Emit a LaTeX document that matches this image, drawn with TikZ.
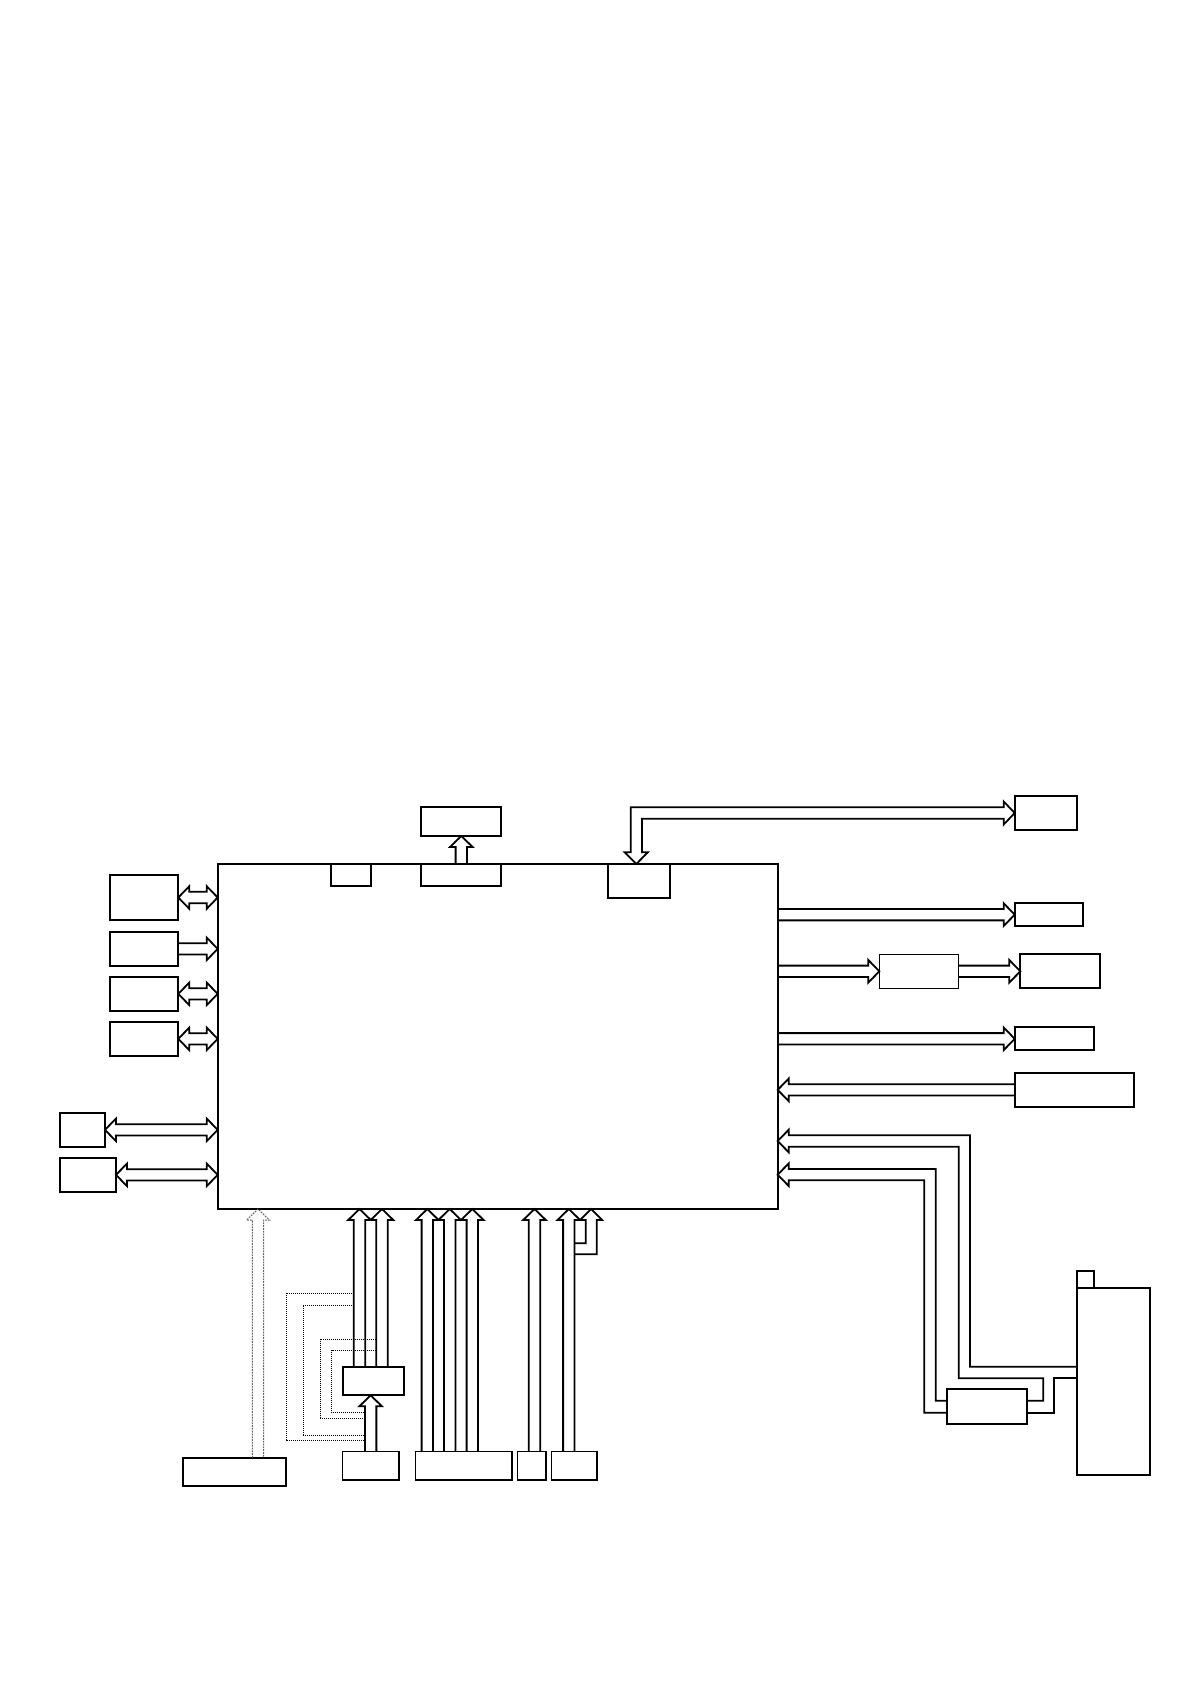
\documentclass[tikz,border=0pt]{standalone}
\usetikzlibrary{calc}

\tikzset{
  blk/.style={draw, rectangle, line width=2.3pt, inner sep=0pt, outer sep=0pt},
  blkthin/.style={blk, line width=1.3pt},
  fat/.style={draw, line width=1.8pt, line join=miter},
  dots/.style={densely dotted, line width=1pt},
}
\newcommand{\shaftw}{5.7pt}
\newcommand{\headw}{11.3pt}
\newcommand{\headlen}{11pt}

% hollow arrow, tip at #3
\newcommand{\fatarrow}[3][]{%
  \coordinate (fa-a) at #2;
  \coordinate (fa-b) at #3;
  \coordinate (fa-c) at ($(fa-b)!\headlen!(fa-a)$);
  \draw[fat,#1] ($(fa-a)!\shaftw!90:(fa-b)$) -- ($(fa-c)!\shaftw!-90:(fa-a)$)
    -- ($(fa-c)!\headw!-90:(fa-a)$) -- (fa-b) -- ($(fa-c)!\headw!90:(fa-a)$)
    -- ($(fa-c)!\shaftw!90:(fa-a)$) -- ($(fa-a)!\shaftw!-90:(fa-b)$);
}
% hollow arrow, tips at both ends
\newcommand{\fatboth}[3][]{%
  \coordinate (fa-a) at #2;
  \coordinate (fa-b) at #3;
  \coordinate (fa-c) at ($(fa-b)!\headlen!(fa-a)$);
  \coordinate (fa-d) at ($(fa-a)!\headlen!(fa-b)$);
  \draw[fat,#1] (fa-a) -- ($(fa-d)!\headw!90:(fa-b)$) -- ($(fa-d)!\shaftw!90:(fa-b)$)
    -- ($(fa-c)!\shaftw!-90:(fa-a)$) -- ($(fa-c)!\headw!-90:(fa-a)$) -- (fa-b)
    -- ($(fa-c)!\headw!90:(fa-a)$) -- ($(fa-c)!\shaftw!90:(fa-a)$)
    -- ($(fa-d)!\shaftw!-90:(fa-b)$) -- ($(fa-d)!\headw!-90:(fa-b)$) -- cycle;
}

\begin{document}
\begin{tikzpicture}[x=1pt, y=-1pt]
\useasboundingbox (0,0) rectangle (1191,1684);

\node (mcu) at (497.7,1036.5) [blk, minimum width=560pt, minimum height=345pt] {};

% left side
\node (l1) at (144.3,897.5) [blk, minimum width=68pt, minimum height=45.6pt] {};
\node (l2) at (144.3,948.85) [blk, minimum width=68pt, minimum height=34.3pt] {};
\node (l3) at (144.3,993.85) [blk, minimum width=68pt, minimum height=34.3pt] {};
\node (l4) at (144.3,1038.85) [blk, minimum width=68pt, minimum height=34.3pt] {};
\node (l5) at (82.65,1129.85) [blk, minimum width=44.7pt, minimum height=34.3pt] {};
\node (l6) at (88.15,1174.85) [blk, minimum width=55.7pt, minimum height=34.3pt] {};

% top
\node (t1) at (351,875.15) [blk, minimum width=40pt, minimum height=22.3pt] {};
\node (t2) at (461.3,875.15) [blk, minimum width=80pt, minimum height=22.3pt] {};
\node (t3) at (461.3,821.65) [blk, minimum width=80pt, minimum height=28.7pt] {};
\node (t4) at (638.85,880.85) [blk, minimum width=62.3pt, minimum height=33.7pt] {};

% right side
\node (r1) at (1045.9,813) [blk, minimum width=62.4pt, minimum height=34pt] {};
\node (r2) at (1049,914.65) [blk, minimum width=68.6pt, minimum height=22.7pt] {};
\node (r3) at (919,971.3) [blkthin, minimum width=79.4pt, minimum height=34pt] {};
\node (r4) at (1060.3,971.3) [blk, minimum width=80pt, minimum height=34pt] {};
\node (r5) at (1054.5,1038.8) [blk, minimum width=79.6pt, minimum height=23pt] {};
\node (r6) at (1074.5,1089.85) [blk, minimum width=119.6pt, minimum height=34.3pt] {};

% battery corner
\node (sw) at (986.7,1406.65) [blk, minimum width=80pt, minimum height=34.7pt] {};
\node (bat) at (1113.35,1381.35) [blk, minimum width=73.3pt, minimum height=187.3pt] {};
\node (nub) at (1085.35,1279.2) [blk, minimum width=17.3pt, minimum height=17pt] {};

% bottom
\node (d) at (234.65,1471.85) [blk, minimum width=102.7pt, minimum height=28.3pt] {};
\node (m) at (373.5,1381) [blk, minimum width=61.6pt, minimum height=28.6pt] {};
\node (n) at (370.65,1465.85) [blkthin, minimum width=56.7pt, minimum height=28.3pt] {};
\node (q) at (463.85,1465.85) [blkthin, minimum width=96.3pt, minimum height=28.3pt] {};
\node (u) at (531.65,1465.85) [blkthin, minimum width=28.7pt, minimum height=28.3pt] {};
\node (v) at (574.15,1465.85) [blkthin, minimum width=45.7pt, minimum height=28.3pt] {};

\coordinate (d1) at ([xshift=23.35pt]d.north);
\coordinate (m1) at ([xshift=-14pt]m.north);
\coordinate (m2) at ([xshift=8.5pt]m.north);
\coordinate (q1) at ([xshift=-36.55pt]q.north);
\coordinate (q2) at ([xshift=-14.15pt]q.north);
\coordinate (q3) at ([xshift=8.45pt]q.north);
\coordinate (u1) at ([xshift=2.85pt]u.north);
\coordinate (v1) at ([xshift=-5.35pt]v.north);

% left arrows
\fatboth{(l1.east)}{(l1.east -| mcu.west)}
\fatarrow{(l2.east)}{(l2.east -| mcu.west)}
\fatboth{(l3.east)}{(l3.east -| mcu.west)}
\fatboth{(l4.east)}{(l4.east -| mcu.west)}
\fatboth{(l5.east)}{(l5.east -| mcu.west)}
\fatboth{(l6.east)}{(l6.east -| mcu.west)}

% top arrows
\fatarrow{(t2.north)}{(t3.south)}
\draw[fat] (630.7,852.3) -- (630.7,807.3) -- (1003.7,807.3) -- (1003.7,801.5) -- (r1.west)
  -- (1003.7,824.5) -- (1003.7,818.7) -- (642,818.7) -- (642,852.3) -- (647.8,852.3)
  -- ([xshift=-2.55pt]t4.north) -- (624.8,852.3) -- cycle;

% right arrows
\fatarrow{(r2.west -| mcu.east)}{(r2.west)}
\fatarrow{(r3.west -| mcu.east)}{(r3.west)}
\fatarrow{(r3.east)}{(r4.west)}
\fatarrow{(r5.west -| mcu.east)}{(r5.west)}
\fatarrow{(r6.west)}{(r6.west -| mcu.east)}

% battery lines
\draw[fat] (bat.west |- 0,1366.7) -- (970,1366.7) -- (970,1135.3) -- (788.7,1135.3)
  -- (788.7,1129.7) -- (mcu.east |- 0,1141) -- (788.7,1152.3) -- (788.7,1146.7)
  -- (958.7,1146.7) -- (958.7,1378.3) -- (1043.3,1378.3) -- (1043.3,1400.7)
  -- (sw.east |- 0,1400.7);
\draw[fat] (sw.east |- 0,1412.7) -- (1054,1412.7) -- (1054,1378.3) -- (bat.west |- 0,1378.3);
\draw[fat] (sw.west |- 0,1400.7) -- (935.7,1400.7) -- (935.7,1169) -- (788.7,1169)
  -- (788.7,1163.4) -- (mcu.east |- 0,1174.7) -- (788.7,1186) -- (788.7,1180.3)
  -- (924.3,1180.3) -- (924.3,1412.7) -- (sw.west |- 0,1412.7);

% bottom arrows
\fatarrow[dots, draw=black!60]{(d1)}{(d1 |- mcu.south)}
\fatarrow{(n.north)}{(n.north |- m.south)}
\fatarrow{(m1)}{(m1 |- mcu.south)}
\fatarrow{(m2)}{(m2 |- mcu.south)}
\fatarrow{(q1)}{(q1 |- mcu.south)}
\fatarrow{(q2)}{(q2 |- mcu.south)}
\fatarrow{(q3)}{(q3 |- mcu.south)}
\fatarrow{(u1)}{(u1 |- mcu.south)}
\fatarrow{(v1)}{(v1 |- mcu.south)}
\draw[fat] (574.3,1243.3) -- (585.7,1243.3) -- (585.7,1220) -- (580.2,1220)
  -- (mcu.south -| 591.2,0) -- (602.2,1220) -- (596.7,1220) -- (596.7,1254.3) -- (574.3,1254.3);

% bypass round m
\draw[dots] (354,1293.3) -| (286,1440) -- (365,1440);
\draw[dots] (354,1305) -| (303.3,1435) -- (365,1435);
\draw[dots] (376.3,1339) -| (320,1418.3) -- (365,1418.3);
\draw[dots] (376.3,1350.3) -| (331.7,1412.7) -- (365,1412.7);
\end{tikzpicture}
\end{document}
